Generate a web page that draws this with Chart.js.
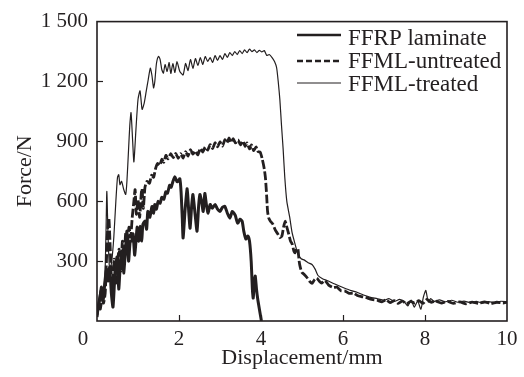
<!DOCTYPE html>
<html>
<head>
<meta charset="utf-8">
<script src="https://cdn.jsdelivr.net/npm/chart.js@4/dist/chart.umd.min.js"></script>
<style>
  html, body { margin: 0; padding: 0; background: #ffffff; }
  #wrap { width: 524px; height: 377px; }
</style>
</head>
<body>
<div id="wrap"><canvas id="c" width="524" height="377"></canvas></div>
<script>
// ---- data (displacement mm, force N) ----
const seriesLabels = ['FFRP laminate', 'FFML-untreated', 'FFML-treated'];
const xTickValues = [0, 2, 4, 6, 8, 10];
const yTickValues = [0, 300, 600, 900, 1200, 1500];

const ffrpLaminate = [
  [0,20],[0.03,70],[0.07,110],[0.11,170],[0.15,100],[0.19,190],[0.23,260],[0.27,200],[0.31,270],[0.35,140],
  [0.39,70],[0.44,240],[0.49,320],[0.53,160],[0.57,290],[0.61,351],[0.65,240],[0.69,340],[0.73,450],[0.77,300],
  [0.81,400],[0.85,401],[0.88,436],[0.92,330],[0.98,470],[1.02,400],[1.05,475],[1.09,401],[1.12,485],[1.17,500],
  [1.21,460],[1.24,549],[1.29,520],[1.34,574],[1.38,540],[1.41,584],[1.45,560],[1.49,599],[1.54,590],[1.58,620],
  [1.63,610],[1.68,648],[1.72,640],[1.77,680],[1.81,670],[1.85,698],[1.9,723],[1.95,698],[1.98,700],[2.02,713],
  [2.05,648],[2.08,515],[2.1,416],[2.15,560],[2.2,663],[2.24,540],[2.27,465],[2.31,580],[2.34,634],[2.39,540],
  [2.44,450],[2.48,580],[2.51,634],[2.55,600],[2.59,549],[2.63,639],[2.67,580],[2.71,540],[2.76,584],[2.81,565],
  [2.88,584],[2.94,560],[3.0,549],[3.06,570],[3.12,574],[3.18,540],[3.24,515],[3.3,549],[3.37,530],[3.43,490],
  [3.49,510],[3.54,500],[3.58,450],[3.63,411],[3.68,426],[3.72,400],[3.76,302],[3.79,160],[3.81,115],[3.84,200],
  [3.86,225],[3.89,160],[3.92,110],[3.96,60],[4.01,0]
];

const ffmlUntreated = [
  [0,30],[0.04,80],[0.08,60],[0.12,110],[0.16,90],[0.2,140],[0.23,300],[0.26,460],[0.29,515],[0.32,380],
  [0.35,220],[0.38,150],[0.42,310],[0.46,190],[0.5,290],[0.54,360],[0.58,250],[0.62,400],[0.66,300],[0.7,440],
  [0.74,380],[0.78,470],[0.82,420],[0.86,520],[0.9,600],[0.93,658],[0.96,535],[1.0,610],[1.04,520],[1.08,640],
  [1.1,663],[1.13,564],[1.17,670],[1.22,700],[1.28,690],[1.33,730],[1.38,720],[1.43,765],[1.48,790],[1.53,780],
  [1.58,810],[1.63,795],[1.68,830],[1.73,812],[1.8,838],[1.86,818],[1.92,840],[1.98,815],[2.04,838],[2.1,816],
  [2.16,848],[2.22,826],[2.28,858],[2.34,836],[2.4,852],[2.46,832],[2.52,865],[2.58,846],[2.64,872],[2.7,856],
  [2.76,884],[2.82,864],[2.88,893],[2.94,872],[3.0,898],[3.06,876],[3.12,908],[3.17,892],[3.22,917],[3.27,894],
  [3.32,913],[3.38,892],[3.44,907],[3.5,882],[3.56,902],[3.61,875],[3.66,892],[3.72,862],[3.77,882],[3.82,853],
  [3.88,872],[3.93,848],[3.98,846],[4.03,812],[4.08,762],[4.11,713],[4.14,620],[4.16,549],[4.19,515],[4.23,500],
  [4.29,485],[4.35,455],[4.41,436],[4.46,418],[4.51,426],[4.55,470],[4.59,500],[4.63,470],[4.67,440],[4.72,400],
  [4.76,386],[4.8,352],[4.83,342],[4.87,362],[4.9,361],[4.93,300],[4.96,267],[5.0,243],[5.06,232],[5.12,218],
  [5.18,200],[5.24,188],[5.3,205],[5.36,215],[5.42,200],[5.48,190],[5.56,203],[5.65,180],[5.76,168],[5.85,170],
  [5.95,152],[6.05,150],[6.15,138],[6.25,140],[6.35,128],[6.45,122],[6.55,118],[6.7,108],[6.83,104],[6.95,96],
  [7.05,106],[7.15,92],[7.25,102],[7.35,88],[7.45,100],[7.55,86],[7.65,98],[7.75,90],[7.85,102],[7.95,88],
  [8.05,108],[8.15,94],[8.25,100],[8.4,90],[8.55,98],[8.7,88],[8.85,96],[9.0,86],[9.15,95],[9.3,88],
  [9.45,96],[9.6,88],[9.75,94],[9.9,90],[10,94]
];

const ffmlTreated = [
  [0,50],[0.04,110],[0.09,160],[0.14,140],[0.19,210],[0.22,450],[0.24,649],[0.27,420],[0.31,250],[0.36,300],
  [0.41,420],[0.46,600],[0.5,720],[0.53,733],[0.56,683],[0.6,700],[0.65,660],[0.7,634],[0.73,700],[0.77,860],
  [0.8,980],[0.83,1044],[0.87,900],[0.9,797],[0.95,960],[1.0,1110],[1.05,1153],[1.1,1060],[1.15,1090],[1.2,1150],
  [1.25,1210],[1.3,1267],[1.34,1230],[1.38,1168],[1.41,1200],[1.45,1290],[1.5,1326],[1.54,1310],[1.58,1260],[1.62,1242],
  [1.66,1285],[1.71,1250],[1.76,1295],[1.8,1240],[1.85,1290],[1.9,1245],[1.95,1300],[2.02,1250],[2.1,1233],[2.16,1290],
  [2.22,1255],[2.28,1310],[2.34,1265],[2.4,1315],[2.46,1280],[2.52,1320],[2.58,1285],[2.64,1325],[2.7,1300],[2.76,1320],
  [2.82,1295],[2.88,1330],[2.94,1305],[3.0,1330],[3.06,1310],[3.12,1340],[3.18,1320],[3.24,1345],[3.3,1330],[3.36,1350],
  [3.42,1335],[3.48,1355],[3.54,1340],[3.6,1358],[3.66,1345],[3.72,1362],[3.78,1350],[3.84,1358],[3.9,1345],[3.96,1356],
  [4.02,1348],[4.08,1355],[4.14,1330],[4.2,1335],[4.27,1320],[4.33,1300],[4.38,1270],[4.42,1200],[4.46,1109],[4.5,980],
  [4.54,861],[4.58,720],[4.63,599],[4.7,520],[4.76,441],[4.83,386],[4.9,336],[4.98,312],[5.06,305],[5.15,292],
  [5.25,282],[5.32,260],[5.39,228],[5.5,212],[5.61,203],[5.8,185],[6.0,168],[6.2,152],[6.34,144],[6.5,130],
  [6.65,120],[6.83,112],[7.0,104],[7.12,112],[7.25,98],[7.38,108],[7.5,95],[7.58,75],[7.66,105],[7.74,69],
  [7.82,100],[7.9,59],[7.96,120],[8.02,153],[8.08,95],[8.14,112],[8.22,98],[8.35,106],[8.5,96],[8.65,104],
  [8.8,94],[8.95,100],[9.1,92],[9.25,98],[9.4,90],[9.55,97],[9.7,92],[9.85,99],[10,96]
];

// ---- styling ----
const INK = '#231f20';
const FONT = 'Liberation Serif';

function toPoints(arr) { return arr.map(p => ({ x: p[0], y: p[1] })); }

function fmtThousands(v) {
  if (v >= 1000) return Math.floor(v / 1000) + ' ' + String(v % 1000).padStart(3, '0');
  return String(v);
}

const framePlugin = {
  id: 'frameAndTicks',
  afterDatasetsDraw(chart) {
    const { ctx, chartArea: a, scales } = chart;
    const xs = scales.x, ys = scales.y;
    ctx.save();
    ctx.strokeStyle = INK;
    ctx.lineWidth = 1.6;
    ctx.setLineDash([]);
    ctx.strokeRect(a.left, a.top, a.right - a.left, a.bottom - a.top);
    ctx.lineWidth = 1.2;
    const tl = 6;
    xTickValues.forEach(v => {
      if (v === xs.min || v === xs.max) return;
      const px = Math.round(xs.getPixelForValue(v)) + 0.5;
      ctx.beginPath(); ctx.moveTo(px, a.bottom); ctx.lineTo(px, a.bottom - tl); ctx.stroke();
    });
    yTickValues.forEach(v => {
      if (v === ys.min || v === ys.max) return;
      const py = Math.round(ys.getPixelForValue(v)) + 0.5;
      ctx.beginPath(); ctx.moveTo(a.left, py); ctx.lineTo(a.left + tl, py); ctx.stroke();
    });
    // shared origin label
    ctx.fillStyle = INK;
    ctx.font = '21px "' + FONT + '"';
    ctx.textAlign = 'center';
    ctx.textBaseline = 'middle';
    ctx.fillText('0', xs.getPixelForValue(0) - 14, a.bottom + 18);
    // legend
    const lx0 = 297, lx1 = 341, tx = 348;
    const rows = [{ ly: 35, by: 45 }, { ly: 61, by: 68 }, { ly: 83, by: 91 }];
    ctx.font = '23px "' + FONT + '"';
    ctx.textAlign = 'left';
    ctx.textBaseline = 'alphabetic';
    chart.data.datasets.forEach((ds, i) => {
      const r = rows[i];
      ctx.strokeStyle = ds.borderColor;
      ctx.lineWidth = ds.legendWidth;
      ctx.setLineDash(ds.legendDash || []);
      ctx.beginPath(); ctx.moveTo(lx0, r.ly); ctx.lineTo(lx1, r.ly); ctx.stroke();
      ctx.setLineDash([]);
      ctx.fillText(ds.label, tx, r.by);
    });
    ctx.restore();
  }
};

new Chart(document.getElementById('c'), {
  type: 'scatter',
  data: {
    datasets: [
      { label: seriesLabels[0], data: toPoints(ffrpLaminate), showLine: true, borderColor: INK, borderWidth: 3, legendWidth: 2.6, pointRadius: 0, tension: 0.2, borderJoinStyle: 'round', order: 1 },
      { label: seriesLabels[1], data: toPoints(ffmlUntreated), showLine: true, borderColor: INK, borderWidth: 2.8, legendWidth: 2.4, borderDash: [9, 2.5], legendDash: [6, 3], pointRadius: 0, tension: 0.2, borderJoinStyle: 'round', order: 2 },
      { label: seriesLabels[2], data: toPoints(ffmlTreated), showLine: true, borderColor: INK, borderWidth: 1.2, legendWidth: 1.2, pointRadius: 0, tension: 0.2, borderJoinStyle: 'round', order: 3 }
    ]
  },
  options: {
    responsive: false,
    animation: false,
    devicePixelRatio: 1,
    layout: { padding: { top: 18, right: 17, left: 0, bottom: 0 } },
    plugins: { legend: { display: false }, tooltip: { enabled: false } },
    scales: {
      x: {
        type: 'linear', min: 0, max: 10,
        afterFit(s) { s.height = 56; },
        afterBuildTicks(s) { s.ticks = xTickValues.map(v => ({ value: v })); },
        grid: { display: false, drawTicks: false },
        border: { display: false },
        ticks: { padding: 6, color: INK, font: { family: FONT, size: 21 }, maxRotation: 0,
                 callback: v => (v === 0 ? '' : String(v)) },
        title: { display: true, text: 'Displacement/mm', color: INK, font: { family: FONT, size: 22 }, padding: { top: 0, bottom: 6 } }
      },
      y: {
        type: 'linear', min: 0, max: 1500,
        afterFit(s) { s.width = 97; },
        afterBuildTicks(s) { s.ticks = yTickValues.map(v => ({ value: v })); },
        grid: { display: false, drawTicks: false },
        border: { display: false },
        ticks: { padding: 9, color: INK, font: { family: FONT, size: 21 },
                 callback: v => (v === 0 ? '' : fmtThousands(v)) },
        title: { display: true, text: 'Force/N', color: INK, font: { family: FONT, size: 22 }, padding: { top: 12, bottom: 0 } }
      }
    }
  },
  plugins: [framePlugin]
});
</script>
</body>
</html>
